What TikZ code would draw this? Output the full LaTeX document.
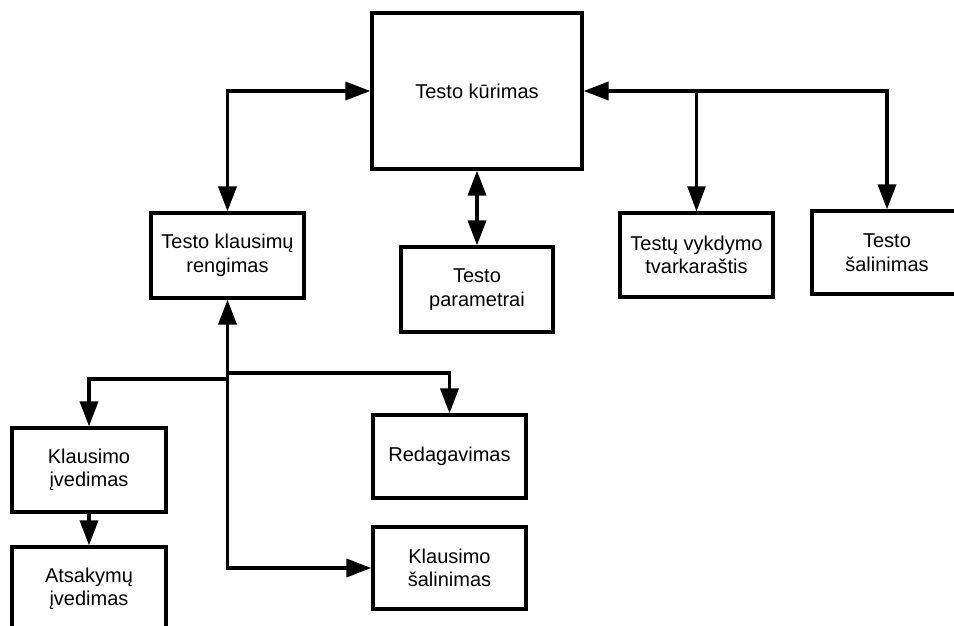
\documentclass[tikz,border=0pt]{standalone}
\usepackage{fontspec}
\setmainfont{Liberation Sans}
\usetikzlibrary{arrows.meta}
\begin{document}
\begin{tikzpicture}[x=1pt,y=-1pt,
  >={Triangle[length=25pt,width=18pt]},
  box/.style={draw, line width=3.2pt, align=center, inner sep=0pt,
    font=\fontsize{20}{23.6}\selectfont},
  link/.style={line width=3.6pt},
  thinlink/.style={line width=2.2pt}]
\useasboundingbox (0,0) rectangle (954,626);

% boxes
\node[box, minimum width=210pt, minimum height=156pt] (kur) at (477,91) {Testo kūrimas};
\node[box, minimum width=153pt, minimum height=85pt] (reng) at (227.5,255.5) {Testo klausimų\\rengimas};
\node[box, minimum width=152pt, minimum height=85pt] (param) at (477,289.5) {Testo\\parametrai};
\node[box, minimum width=153pt, minimum height=84pt] (vykd) at (696.5,255) {Testų vykdymo\\tvarkaraštis};
\node[box, minimum width=150pt, minimum height=83pt] (sal) at (887,252.5) {Testo\\šalinimas};
\node[box, minimum width=154pt, minimum height=84pt] (ived) at (89,470) {Klausimo\\įvedimas};
\node[box, minimum width=154pt, minimum height=84pt] (ats) at (89,589) {Atsakymų\\įvedimas};
\node[box, minimum width=153pt, minimum height=83pt] (red) at (449.5,456.5) {Redagavimas};
\node[box, minimum width=153pt, minimum height=82pt] (ksal) at (449.5,568) {Klausimo\\šalinimas};

% junction points
\coordinate (tap) at (vykd.north |- kur.east);
\coordinate (jl) at (reng.south |- 0,379);
\coordinate (jr) at (reng.south |- 0,373);

% connectors around the top box
\draw[link, <->] (reng.north) |- (kur.west);
\draw[link, <->] (kur.south) -- (param.north);
\draw[link, <->] (kur.east) -| (sal.north);
\draw[thinlink, ->] (tap) -- (vykd.north);

% connectors below the question box
\draw[link, <->] (reng.south) |- (ksal.west);
\draw[link, ->] (jl) -| (ived.north);
\draw[link, ->] (jr) -| (red.north);
\draw[link, ->] (ived.south) -- (ats.north);
\end{tikzpicture}
\end{document}
